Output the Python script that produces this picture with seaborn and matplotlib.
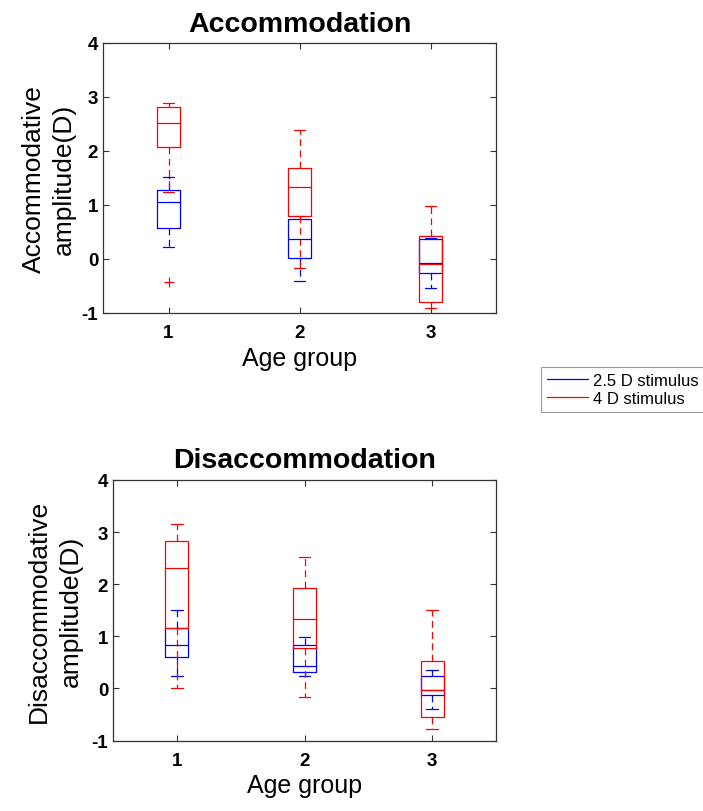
import matplotlib
matplotlib.use("Agg")
import matplotlib.pyplot as plt
from matplotlib.lines import Line2D
import seaborn as sns
import pandas as pd

# ---------------- data ----------------
groups = [1, 2, 3]
xtick_labels = ["1", "2", "3"]
yticks = [-1, 0, 1, 2, 3, 4]
series_labels = ["2.5 D stimulus", "4 D stimulus"]
series_colors = ["#0000ff", "#ff0000"]

# Accommodation, 2.5 D stimulus
acc_25_whislo = [0.23, -0.41, -0.53]
acc_25_q1 = [0.58, 0.02, -0.25]
acc_25_med = [1.06, 0.37, -0.07]
acc_25_q3 = [1.28, 0.75, 0.37]
acc_25_whishi = [1.52, 0.79, 0.38]
acc_25_fliers = [[], [], []]

# Accommodation, 4 D stimulus
acc_4_whislo = [1.25, -0.16, -0.90]
acc_4_q1 = [2.07, 0.80, -0.80]
acc_4_med = [2.52, 1.33, -0.10]
acc_4_q3 = [2.82, 1.68, 0.43]
acc_4_whishi = [2.88, 2.39, 0.99]
acc_4_fliers = [[-0.42], [], []]

# Disaccommodation, 2.5 D stimulus
dis_25_whislo = [0.24, 0.24, -0.40]
dis_25_q1 = [0.61, 0.32, -0.13]
dis_25_med = [0.83, 0.43, -0.04]
dis_25_q3 = [1.16, 0.83, 0.23]
dis_25_whishi = [1.51, 0.99, 0.36]
dis_25_fliers = [[], [], []]

# Disaccommodation, 4 D stimulus
dis_4_whislo = [0.00, -0.17, -0.77]
dis_4_q1 = [1.15, 0.78, -0.54]
dis_4_med = [2.32, 1.34, -0.03]
dis_4_q3 = [2.83, 1.93, 0.53]
dis_4_whishi = [3.15, 2.53, 1.51]
dis_4_fliers = [[], [], []]


def make_stats(whislo, q1, med, q3, whishi, fliers):
    df = pd.DataFrame({"whislo": whislo, "q1": q1, "med": med,
                       "q3": q3, "whishi": whishi})
    stats = []
    for i, row in df.iterrows():
        d = row.to_dict()
        d["fliers"] = fliers[i]
        stats.append(d)
    return stats


panels = [
    dict(title="Accommodation", ylabel="Accommodative\namplitude(D)",
         rect=[103 / 703, (812 - 314) / 812, 393 / 703, 270 / 812],
         labelx=-0.068, linespacing=1.35,
         series=[make_stats(acc_25_whislo, acc_25_q1, acc_25_med, acc_25_q3, acc_25_whishi, acc_25_fliers),
                 make_stats(acc_4_whislo, acc_4_q1, acc_4_med, acc_4_q3, acc_4_whishi, acc_4_fliers)]),
    dict(title="Disaccommodation", ylabel="Disaccommodative\namplitude(D)",
         rect=[113 / 703, (812 - 741.5) / 812, 383 / 703, 260.5 / 812],
         labelx=-0.078, linespacing=1.42,
         series=[make_stats(dis_25_whislo, dis_25_q1, dis_25_med, dis_25_q3, dis_25_whishi, dis_25_fliers),
                 make_stats(dis_4_whislo, dis_4_q1, dis_4_med, dis_4_q3, dis_4_whishi, dis_4_fliers)]),
]

# ---------------- style ----------------
sns.set_style("white")
plt.rcParams["font.family"] = ["Liberation Sans", "DejaVu Sans"]
plt.rcParams["axes.unicode_minus"] = False
plt.rcParams["text.color"] = "black"
plt.rcParams["axes.labelcolor"] = "black"
plt.rcParams["xtick.color"] = "black"
plt.rcParams["ytick.color"] = "black"

fig = plt.figure(figsize=(7.03, 8.12), dpi=100)

lw = 0.9
dash = (0, (5.5, 3.5))

for p in panels:
    ax = fig.add_axes(p["rect"])
    for stats, col in zip(p["series"], series_colors):
        ax.bxp(stats, positions=groups, widths=0.18, showfliers=True,
               boxprops=dict(color=col, linewidth=lw),
               whiskerprops=dict(color=col, linewidth=lw, linestyle=dash),
               capprops=dict(color=col, linewidth=lw),
               medianprops=dict(color=col, linewidth=lw),
               flierprops=dict(marker="+", markeredgecolor=col,
                               markersize=7, markeredgewidth=lw, linestyle="none"),
               manage_ticks=False)
    ax.set_xlim(0.5, 3.5)
    ax.set_ylim(-1, 4)
    ax.set_xticks(groups)
    ax.set_xticklabels(xtick_labels)
    ax.set_yticks(yticks)
    ax.set_yticklabels([str(t) for t in yticks])
    for lab in ax.get_xticklabels() + ax.get_yticklabels():
        lab.set_fontweight("bold")
        lab.set_fontsize(13.5)
        lab.set_color("black")
    ax.tick_params(axis="x", direction="in", length=4, width=0.8, top=True,
                   bottom=True, pad=8, color="#333333")
    ax.tick_params(axis="y", direction="in", length=4, width=0.8, left=True,
                   right=True, pad=3.5, color="#333333")
    for s in ax.spines.values():
        s.set_visible(True)
        s.set_color("#333333")
        s.set_linewidth(0.9)
    ax.set_title(p["title"], fontsize=20.5, fontweight="bold", pad=9, color="black")
    ax.set_xlabel("Age group", fontsize=18, labelpad=3.5, color="black")
    ax.set_ylabel(p["ylabel"], fontsize=19, linespacing=p["linespacing"], color="black")
    ax.yaxis.set_label_coords(p["labelx"], 0.5)

handles = [Line2D([0], [0], color=c, lw=0.9) for c in series_colors]
leg = fig.legend(handles, series_labels, loc="upper left",
                 bbox_to_anchor=(540.7 / 703, 1 - 367.7 / 812),
                 borderaxespad=0, frameon=True, fancybox=False,
                 edgecolor="#808080", fontsize=12, handlelength=2.5,
                 handletextpad=0.3, borderpad=0.35, labelspacing=0.2)
leg.get_frame().set_linewidth(0.8)
for t in leg.get_texts():
    t.set_color("black")

fig.savefig("out.png", dpi=100)
